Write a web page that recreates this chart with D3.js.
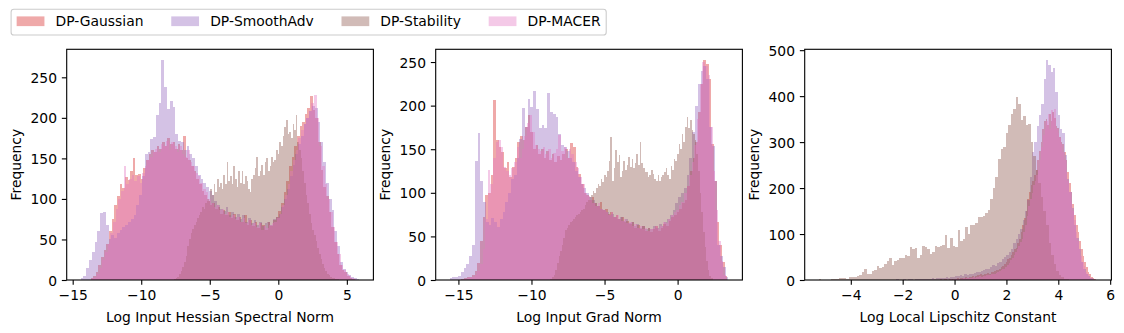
<!DOCTYPE html>
<html><head><meta charset="utf-8">
<script src="https://cdn.jsdelivr.net/npm/d3@7"></script>
<style>
body{margin:0;background:#fff}
svg{display:block}
text{font-family:"DejaVu Sans";fill:#000}
</style></head>
<body><svg id="chart" width="1124" height="333"></svg>
<script>
// ---------- categories / series ----------
const seriesNames = ["DP-Gaussian", "DP-SmoothAdv", "DP-Stability", "DP-MACER"];
const seriesColors = ["#d62728", "#9467bd", "#8c564b", "#e377c2"];
const panelXLabels = ["Log Input Hessian Spectral Norm", "Log Input Grad Norm", "Log Local Lipschitz Constant"];
const yAxisLabel = "Frequency";

// ---------- tick values ----------
const hessXTicks = [-15, -10, -5, 0, 5];
const gradXTicks = [-15, -10, -5, 0];
const lipXTicks = [-4, -2, 0, 2, 4, 6];
const hessYTicks = [0, 50, 100, 150, 200, 250];
const gradYTicks = [0, 50, 100, 150, 200, 250];
const lipYTicks = [0, 100, 200, 300, 400, 500];

// ---------- panel 1: Log Input Hessian Spectral Norm (bin range + counts) ----------
const hessGaussianRange = [-13.7, 5.6];
const hessGaussian = [2,5,10,18,28,37,45,60,75,92,
104,118,113,127,123,135,150,129,131,125,
138,148,155,160,158,165,162,170,165,175,
168,170,162,168,160,177,150,148,140,135,
125,118,110,105,98,92,95,88,90,82,
86,80,84,76,82,74,78,72,80,68,
74,66,72,64,70,68,62,72,66,74,
78,85,95,108,122,140,152,165,178,190,
195,205,212,227,210,200,170,136,115,103,
84,65,47,32,19,12,10,5,3,1];
const hessSmoothAdvRange = [-14.42, 5.92];
const hessSmoothAdv = [3,5,15,25,35,47,60,83,84,68,
50,55,52,58,62,65,68,72,75,80,
92,105,128,155,158,174,176,203,218,271,
238,211,221,213,180,172,170,160,165,155,
150,140,130,125,120,115,110,105,98,92,
88,85,90,80,84,78,82,75,80,72,
76,70,74,68,72,66,70,72,68,75,
78,82,90,100,112,128,142,155,168,178,
192,200,208,215,212,195,170,146,120,100,
86,60,42,22,14,10,6,4,3,1];
const hessStabilityRange = [-7.6, 4.4];
const hessStability = [1,2,4,7,11,16,22,30,42,50,
58,63,68,72,76,80,84,90,88,95,
100,98,112,105,118,108,125,115,120,112,
130,118,145,122,128,118,140,125,115,134,
120,134,118,128,122,112,108,125,130,138,
152,128,135,142,130,145,151,135,140,152,
145,148,160,155,170,165,178,189,197,180,
183,175,193,185,203,170,160,150,135,120,
105,95,82,70,62,55,48,40,32,26,
20,15,11,8,6,4,3,2,1,1];
const hessMACERRange = [-13.6, 5.7];
const hessMACER = [2,4,8,15,25,35,44,58,72,88,
100,110,140,118,125,130,122,128,120,132,
140,148,152,158,162,158,168,165,172,160,
170,165,158,165,155,152,160,145,140,132,
128,120,112,108,100,95,90,92,86,88,
82,84,78,80,75,78,72,76,70,74,
68,70,65,70,62,66,64,68,70,72,
76,82,92,105,118,135,148,160,175,185,
192,200,208,218,228,200,165,140,118,100,
84,65,47,32,19,12,8,5,3,1];

// ---------- panel 2: Log Input Grad Norm ----------
const gradGaussianRange = [-14.8, 3.4];
const gradGaussian = [1,2,3,4,6,10,20,45,72,98,
100,120,207,160,152,147,128,135,118,130,
140,158,165,160,175,189,170,150,155,145,
150,140,148,138,145,135,142,138,145,150,
140,157,153,130,122,110,100,98,92,95,
88,85,90,80,82,76,78,72,75,70,
72,66,68,64,66,60,63,58,62,56,
60,55,58,62,56,60,64,62,68,72,
75,78,82,88,92,108,125,140,158,193,
225,252,248,231,156,113,67,40,21,5];
const gradSmoothAdvRange = [-15.6, 3.48];
const gradSmoothAdv = [2,3,3,5,9,14,18,28,40,137,
169,113,90,66,63,71,66,61,70,78,
90,100,116,120,140,162,197,175,208,198,
217,196,174,178,174,215,193,190,187,167,
155,152,148,140,135,125,118,110,105,100,
95,92,88,85,82,80,78,75,76,72,
70,72,68,70,65,66,62,64,60,62,
58,60,58,62,60,64,62,66,70,74,
80,88,95,100,105,120,140,170,200,225,
240,245,231,175,154,113,40,28,15,4];
const gradStabilityRange = [-8.7, 2.4];
const gradStability = [1,3,6,12,20,28,33,40,48,57,
60,63,66,68,70,72,74,76,78,80,
82,86,90,92,95,98,102,100,106,110,
108,116,112,120,118,125,137,164,113,128,
149,135,143,118,125,137,126,132,141,130,
139,128,134,145,132,158,134,128,124,124,
118,120,126,122,116,114,120,113,118,120,
124,128,120,116,131,126,139,137,145,156,
150,168,158,175,187,174,183,172,168,160,
145,125,100,78,55,38,22,12,5,2];
const gradMACERRange = [-14.6, 3.3];
const gradMACER = [1,2,3,4,6,10,18,35,70,126,
110,140,158,160,152,130,125,120,128,135,
153,140,150,165,180,189,170,155,150,148,
152,145,150,140,146,150,166,148,152,140,
150,145,135,128,118,110,100,96,92,88,
85,88,82,80,78,75,78,72,74,70,
68,70,65,66,62,64,60,62,58,60,
56,58,60,62,58,62,66,65,70,74,
78,80,86,90,100,108,120,135,155,185,
225,250,245,235,175,125,80,45,22,6];

// ---------- panel 3: Log Local Lipschitz Constant ----------
const lipGaussianRange = [-1.0, 5.45];
const lipGaussian = [1,0,1,1,0,1,1,2,1,2,
2,1,2,3,2,3,3,4,3,5,
4,5,6,5,7,6,8,7,9,10,
10,12,11,13,12,15,14,18,17,20,
22,21,25,28,30,34,40,45,47,55,
61,68,70,80,90,105,120,134,150,177,
192,206,215,228,240,260,280,300,329,347,
350,338,362,345,365,352,335,330,312,300,
295,279,260,235,210,192,165,142,120,105,
85,68,52,39,28,18,12,7,4,2];
const lipSmoothAdvRange = [-3.5, 5.51];
const lipSmoothAdv = [1,0,0,1,0,1,0,1,1,0,
1,1,0,1,2,1,1,2,1,2,
2,1,2,3,2,3,2,3,3,4,
3,4,5,4,5,6,5,7,6,8,
8,10,9,12,11,14,13,16,18,17,
20,22,25,24,28,32,30,36,40,45,
50,55,62,68,80,90,100,112,130,150,
175,225,278,300,336,360,383,438,478,467,
452,461,409,358,329,319,272,220,192,156,
119,91,68,39,25,14,8,5,3,1];
const lipStabilityRange = [-5.24, 4.5];
const lipStability = [2,0,0,1,0,2,2,3,4,5,
5,3,6,6,6,8,10,18,24,14,
14,19,22,31,27,28,34,41,48,32,
41,43,47,47,54,53,72,67,70,48,
55,73,71,68,57,62,73,72,73,77,
97,70,92,73,72,108,84,90,115,101,
119,119,125,137,137,140,145,152,177,200,
224,264,286,290,319,337,362,373,398,383,
348,357,337,340,300,270,240,210,180,150,
120,80,55,35,20,11,6,3,2,1];
const lipMACERRange = [-0.8, 5.48];
const lipMACER = [1,0,1,1,0,1,1,1,2,1,
2,1,2,2,3,2,3,3,4,3,
4,5,4,5,6,5,7,6,8,7,
9,8,10,11,10,12,14,13,16,18,
20,22,25,24,28,32,38,44,47,55,
61,68,75,82,90,105,120,140,160,177,
190,206,215,228,240,260,290,315,329,347,
362,329,369,358,373,329,319,308,295,279,
260,235,215,192,170,150,130,105,85,68,
52,39,30,18,12,7,4,2,1,1];

// ---------- build ----------
const svg = d3.select("#chart");
const FS = 13.89;
const fmt = d3.format("d");

const panels = [
  {left: 66.7, series: [[hessGaussianRange, hessGaussian],[hessSmoothAdvRange, hessSmoothAdv],[hessStabilityRange, hessStability],[hessMACERRange, hessMACER]],
   xTicks: hessXTicks, yTicks: hessYTicks, xLabel: panelXLabels[0]},
  {left: 435.7, series: [[gradGaussianRange, gradGaussian],[gradSmoothAdvRange, gradSmoothAdv],[gradStabilityRange, gradStability],[gradMACERRange, gradMACER]],
   xTicks: gradXTicks, yTicks: gradYTicks, xLabel: panelXLabels[1]},
  {left: 804.7, series: [[lipGaussianRange, lipGaussian],[lipSmoothAdvRange, lipSmoothAdv],[lipStabilityRange, lipStability],[lipMACERRange, lipMACER]],
   xTicks: lipXTicks, yTicks: lipYTicks, xLabel: panelXLabels[2]}
];
const W = 306.7, TOP = 49.3, BOTTOM = 280;

panels.forEach(p => {
  const left = p.left, right = p.left + W;
  const dmin = d3.min(p.series, s => s[0][0]);
  const dmax = d3.max(p.series, s => s[0][1]);
  const pad = (dmax - dmin) * 0.05;
  const x = d3.scaleLinear().domain([dmin - pad, dmax + pad]).range([left, right]);
  const ymax = d3.max(p.series, s => d3.max(s[1])) * 1.05;
  const y = d3.scaleLinear().domain([0, ymax]).range([BOTTOM, TOP]);

  const g = svg.append("g").attr("shape-rendering", "crispEdges");
  p.series.forEach((s, k) => {
    const [r, counts] = s;
    const w = (r[1] - r[0]) / counts.length;
    g.append("g").selectAll("rect").data(counts).join("rect")
      .attr("x", (d, i) => x(r[0] + i * w))
      .attr("width", (d, i) => x(r[0] + (i + 1) * w) - x(r[0] + i * w))
      .attr("y", d => y(d))
      .attr("height", d => y(0) - y(d))
      .attr("fill", seriesColors[k])
      .attr("fill-opacity", 0.4);
  });

  const xa = svg.append("g").attr("transform", `translate(0,${BOTTOM})`)
    .call(d3.axisBottom(x).tickValues(p.xTicks).tickFormat(fmt).tickSize(4.86).tickPadding(4.86));
  const ya = svg.append("g").attr("transform", `translate(${left},0)`)
    .call(d3.axisLeft(y).tickValues(p.yTicks).tickFormat(fmt).tickSize(4.86).tickPadding(4.86));
  [xa, ya].forEach(a => {
    a.select(".domain").remove();
    a.selectAll(".tick line").attr("stroke", "#000").attr("stroke-width", 1.11);
    a.selectAll(".tick text").attr("font-family", "DejaVu Sans").attr("font-size", FS).attr("fill", "#000");
  });
  ya.selectAll(".tick text").attr("dy", "0.36em");

  svg.append("rect").attr("x", left).attr("y", TOP).attr("width", W).attr("height", BOTTOM - TOP)
    .attr("fill", "none").attr("stroke", "#000").attr("stroke-width", 1.11);

  svg.append("text").attr("x", (left + right) / 2).attr("y", 321.5)
    .attr("text-anchor", "middle").attr("font-size", FS).text(p.xLabel);
  svg.append("text").attr("transform", `translate(${left - 45.5},${(TOP + BOTTOM) / 2}) rotate(-90)`)
    .attr("text-anchor", "middle").attr("font-size", FS).text(yAxisLabel);
});

// ---------- legend ----------
const leg = svg.append("g");
const frame = leg.append("rect");
let cur = 11.1 + 5.56;
seriesNames.forEach((name, k) => {
  leg.append("rect").attr("x", cur).attr("y", 16.4).attr("width", 27.78).attr("height", 9.72)
    .attr("fill", seriesColors[k]).attr("fill-opacity", 0.4);
  const t = leg.append("text").attr("x", cur + 27.78 + 11.11).attr("y", 26.3)
    .attr("font-size", FS).text(name);
  const tw = t.node().getComputedTextLength();
  cur = cur + 27.78 + 11.11 + tw + (k < seriesNames.length - 1 ? 27.78 : 0);
});
frame.attr("x", 11.1).attr("y", 9.3).attr("width", cur + 5.56 - 11.1).attr("height", 25.7)
  .attr("rx", 2.8).attr("fill", "#fff").attr("fill-opacity", 0.8)
  .attr("stroke", "#cccccc").attr("stroke-width", 1.1);
</script>
</body></html>
